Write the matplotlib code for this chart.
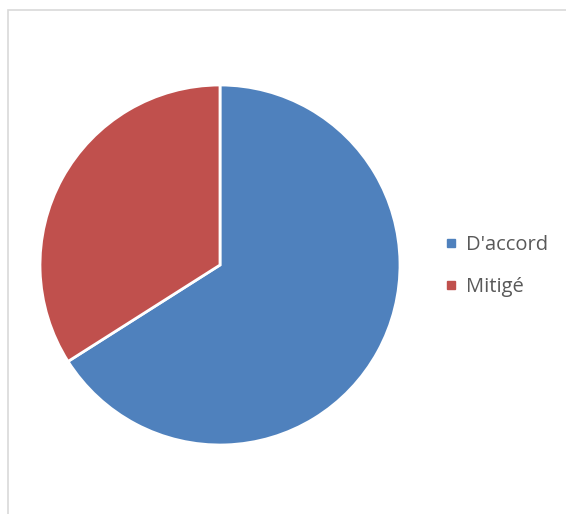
import matplotlib
matplotlib.use("Agg")
import matplotlib.pyplot as plt
from matplotlib.lines import Line2D
from matplotlib.patches import Rectangle

labels = ["D'accord", "Mitigé"]
values = [66, 34]
colors = ["#4F81BD", "#C0504D"]

W, H = 566, 514
fig = plt.figure(figsize=(W / 100, H / 100), dpi=100)
fig.patch.set_facecolor("white")

# chart area border
fig.add_artist(Rectangle((8 / W, -0.1), 1.2, (H - 10) / H + 0.1, transform=fig.transFigure,
                         fill=False, edgecolor="#d9d9d9", linewidth=1.2))

cx, cy, r = 220, 265, 180
ax = fig.add_axes([(cx - r) / W, (H - cy - r) / H, 2 * r / W, 2 * r / H])
ax.pie(values, colors=colors, startangle=90, counterclock=False, radius=1,
       wedgeprops=dict(edgecolor="white", linewidth=2))
ax.set_xlim(-1, 1)
ax.set_ylim(-1, 1)
ax.set_aspect("equal")
ax.axis("off")

handles = [Line2D([0], [0], marker="s", linestyle="none", markersize=6,
                  markerfacecolor=c, markeredgecolor=c) for c in colors]
leg = fig.legend(handles, labels, loc="center left", bbox_to_anchor=(427 / W, 1 - 266 / H),
                 frameon=False, handlelength=0.6, handletextpad=0.45, labelspacing=1.05,
                 prop=dict(family="Open Sans", size=14.5))
for t in leg.get_texts():
    t.set_color("#595959")

fig.savefig("out.png", dpi=100)
